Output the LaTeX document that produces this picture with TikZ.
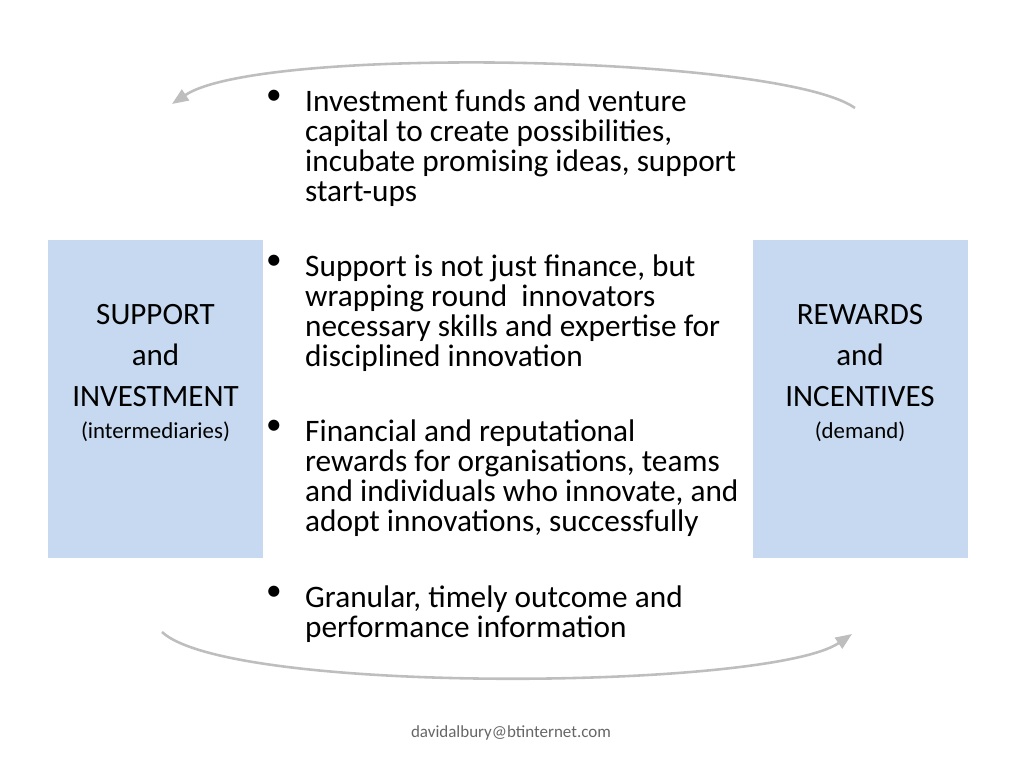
\documentclass[tikz,border=0pt]{standalone}
\usepackage{fontspec}
\setmainfont{Carlito}
\usetikzlibrary{arrows.meta, positioning}
\definecolor{boxblue}{RGB}{198,217,240}
\definecolor{arcgray}{RGB}{190,190,190}
\tikzset{
  sidebox/.style={fill=boxblue, minimum width=6.45cm, minimum height=9.54cm, inner sep=0pt},
  sidetext/.style={align=center, font=\fontsize{26.5}{35}\selectfont},
  subtext/.style={font=\fontsize{19.5}{22}\selectfont},
  bullettext/.style={anchor=north west, align=left, inner sep=0pt, font=\fontsize{26.7}{25.6}\selectfont},
  bulletdot/.style={anchor=north west, inner sep=0pt, font=\fontsize{26.7}{25.6}\selectfont},
  arc/.style={arcgray, line width=2.2pt, -{Triangle[length=14pt, width=11pt]}}
}
\begin{document}
\begin{tikzpicture}[x=0.03cm, y=-0.03cm]
\useasboundingbox (0,0) rectangle (1024,768);
% side boxes
\node[sidebox] (left) at (155.5,399) {};
\node[sidebox] (right) at (860,399) {};
\node[sidetext] (lefttxt) at (155.5,356) {SUPPORT\\and\\INVESTMENT};
\node[subtext] (leftsub) at (155.5,432) {(intermediaries)};
\node[sidetext] (righttxt) at (860,356) {REWARDS\\and\\INCENTIVES};
\node[subtext] (rightsub) at (860,432) {(demand)};
% bullets
\foreach \y/\name/\txt in {
  90/b1/{Investment funds and venture\\capital to create possibilities,\\incubate promising ideas, support\\start-ups},
  255/b2/{Support is not just finance, but\\wrapping round\ \ innovators\\necessary skills and expertise for\\disciplined innovation},
  420/b3/{Financial and reputational\\rewards for organisations, teams\\and individuals who innovate, and\\adopt innovations, successfully},
  586/b4/{Granular, timely outcome and\\performance information}} {
  \node[bulletdot] (\name dot) at (266,\y) {\textbullet};
  \node[bullettext] (\name) at (305,\y) {\txt};
}
% cycle arcs
\coordinate (topR) at (855,108);
\coordinate (topL) at (172,104);
\coordinate (botL) at (162,632);
\coordinate (botR) at (852,634);
\draw[arc] (topR) .. controls (780,55) and (260,45) .. (topL);
\draw[arc] (botL) .. controls (230,695) and (770,690) .. (botR);
% footer
\node[text=gray!80!black, font=\fontsize{14.5}{16}\selectfont] (mail) at (511,733) {davidalbury@btinternet.com};
\end{tikzpicture}
\end{document}
